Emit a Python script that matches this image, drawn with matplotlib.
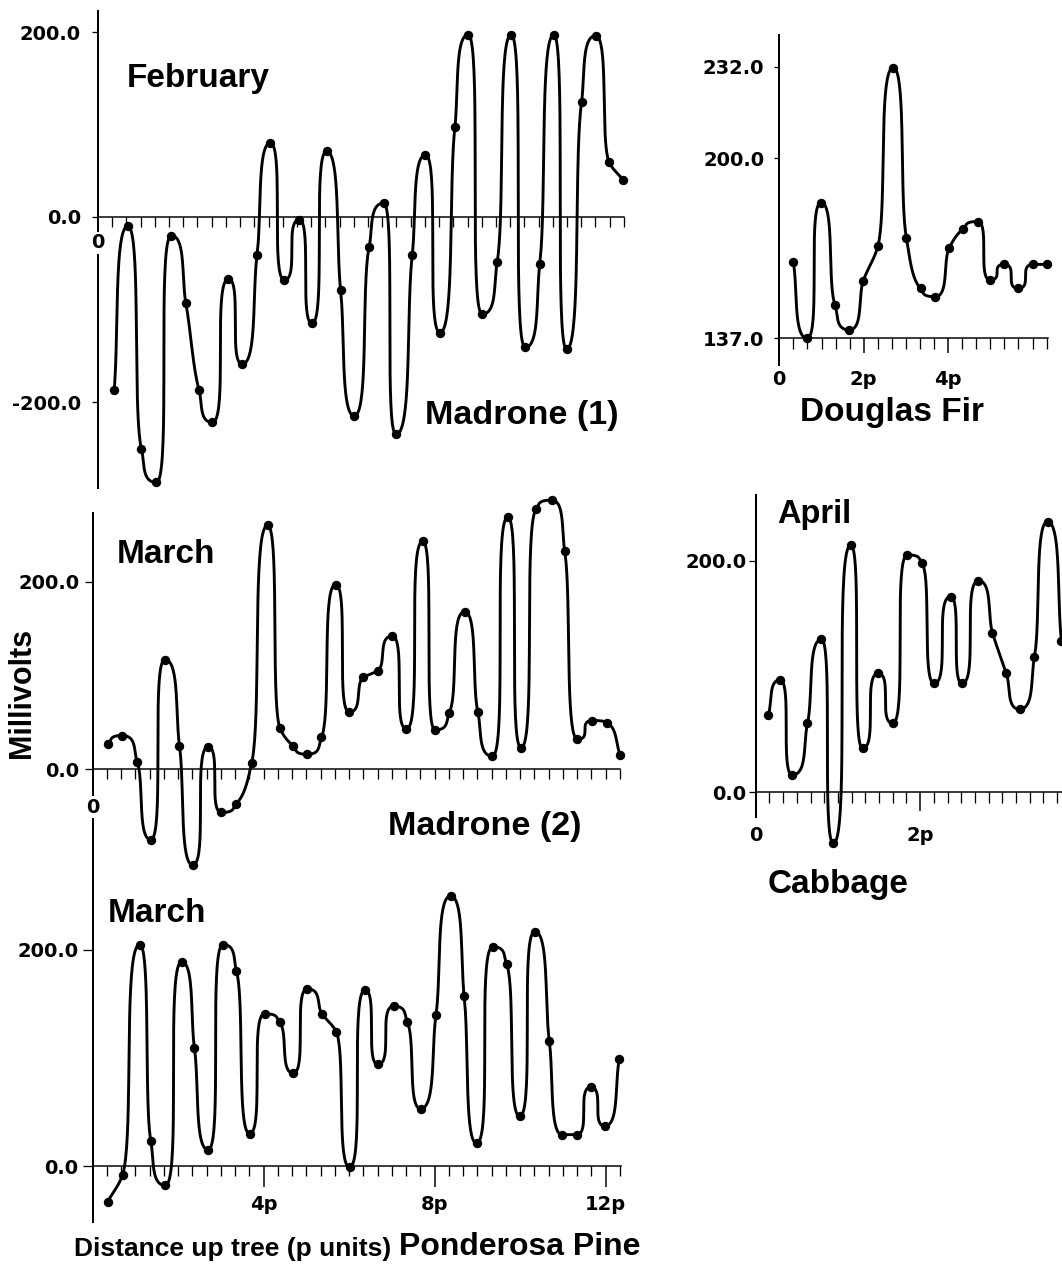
import numpy as np
import matplotlib.pyplot as plt
from matplotlib import transforms

# --- Data (millivolts vs distance up tree, p units) ---
madrone1_x = [0.38, 0.70, 1.02, 1.37, 1.72, 2.06, 2.37, 2.68, 3.06, 3.38, 3.73, 4.04, 4.37,
              4.72, 5.02, 5.36, 5.69, 6.01, 6.36, 6.70, 6.99, 7.37, 7.68, 8.02, 8.37, 8.68,
              9.01, 9.36, 9.69, 10.02, 10.36, 10.69, 10.99, 11.34, 11.67, 11.99, 12.32]
madrone1_mv = [-187, -10, -251, -287, -20, -93, -187, -222, -67, -159, -41, 80, -68,
               -3, -115, 71, -79, -215, -32, 15, -235, -41, 67, -125, 97, 197,
               -105, -49, 197, -141, -51, 197, -143, 124, 196, 59, 40]

madrone2_x = [0.35, 0.69, 1.04, 1.36, 1.69, 2.03, 2.34, 2.70, 3.01, 3.35, 3.72, 4.09, 4.38,
              4.69, 5.02, 5.35, 5.68, 6.00, 6.33, 6.67, 7.00, 7.34, 7.72, 8.01, 8.34, 8.70,
              9.01, 9.35, 9.71, 10.02, 10.38, 10.74, 11.04, 11.34, 11.69, 12.03, 12.34]
madrone2_mv = [27, 36, 8, -75, 117, 25, -102, 24, -46, -37, 7, 260, 44,
               25, 16, 34, 197, 61, 98, 105, 142, 43, 243, 42, 60, 168,
               61, 14, 269, 23, 278, 287, 233, 32, 52, 49, 15]

pine_x = [0.35, 0.70, 1.10, 1.36, 1.70, 2.08, 2.38, 2.70, 3.05, 3.36, 3.67, 4.02, 4.37,
          4.69, 5.02, 5.36, 5.70, 6.01, 6.37, 6.67, 7.04, 7.36, 7.67, 8.03, 8.37, 8.69,
          8.98, 9.36, 9.68, 9.99, 10.34, 10.68, 10.98, 11.32, 11.65, 11.98, 12.32]
pine_mv = [-33, -8, 205, 23, -18, 189, 109, 15, 205, 181, 30, 141, 133,
           86, 164, 141, 124, -1, 163, 94, 148, 133, 53, 140, 250, 157,
           21, 203, 187, 46, 217, 116, 29, 29, 73, 37, 99]

fir_x = [0.33, 0.66, 0.99, 1.32, 1.66, 1.99, 2.34, 2.70, 3.01, 3.35, 3.69, 4.03, 4.36,
         4.70, 4.99, 5.33, 5.66, 6.01, 6.35]
fir_mv = [163.9, 137.1, 184.5, 148.7, 140.0, 157.2, 169.5, 231.7, 172.3, 154.5, 151.6,
          168.8, 175.3, 177.9, 157.5, 162.9, 154.5, 162.9, 162.9]

cabbage_x = [0.154, 0.296, 0.446, 0.63, 0.80, 0.945, 1.156, 1.30, 1.49, 1.667, 1.846,
             2.02, 2.17, 2.37, 2.51, 2.71, 2.88, 3.05, 3.21, 3.39, 3.55, 3.72]
cabbage_mv = [66.8, 97, 15, 59.6, 132, -44, 213.5, 38, 102.7, 59.6, 205,
              198, 94, 169, 94, 182.7, 137.8, 102.7, 71.7, 116.5, 233.7, 130.6]

W, H = 1062, 1267
PT = 0.72  # points per pixel at 100 dpi
plt.rcParams["font.family"] = ["Liberation Sans", "DejaVu Sans"]
plt.rcParams["font.weight"] = "bold"
TICKFONT = dict(family="DejaVu Sans", weight="bold", size=14)

fig = plt.figure(figsize=(W / 100, H / 100), dpi=100)


def smooth_curve(x, y, ppx, ppy, n=40):
    # Bezier pieces in screen space: flat handles at peaks/troughs give the
    # rounded, near-vertical pulses of the original plotter curve
    X = np.asarray(x, float) * ppx
    Y = np.asarray(y, float) * ppy
    h = np.diff(X)
    D = np.diff(Y)
    m = D / h
    d = np.zeros_like(Y)
    d[0], d[-1] = m[0], m[-1]
    for k in range(1, len(X) - 1):
        if m[k - 1] * m[k] > 0:
            w1 = 2 * h[k] + h[k - 1]
            w2 = h[k] + 2 * h[k - 1]
            d[k] = (w1 + w2) / (w1 / m[k - 1] + w2 / m[k])

    def handle(s, hk, Dk):
        if Dk == 0:
            return hk / 3
        if s == 0:
            return hk
        a = hk / (1 + 2 * abs(s) / abs(Dk / hk))
        return min(a, abs(Dk / s))

    t = np.linspace(0, 1, n)
    b0, b1, b2, b3 = (1 - t) ** 3, 3 * (1 - t) ** 2 * t, 3 * (1 - t) * t ** 2, t ** 3
    xs, ys = [], []
    for k in range(len(X) - 1):
        a0 = handle(d[k], h[k], D[k])
        a1 = handle(d[k + 1], h[k], D[k])
        cx1, cy1 = X[k] + a0, Y[k] + a0 * d[k]
        cx2, cy2 = X[k + 1] - a1, Y[k + 1] - a1 * d[k + 1]
        xs.append(b0 * X[k] + b1 * cx1 + b2 * cx2 + b3 * X[k + 1])
        ys.append(b0 * Y[k] + b1 * cy1 + b2 * cy2 + b3 * Y[k + 1])
    return np.concatenate(xs) / ppx, np.concatenate(ys) / ppy


def add_panel(px0, ppx, py0, ppy, xlim, ylim):
    # px0/py0: pixel position of x=0 / y=0, ppx/ppy: pixels per data unit
    left = px0 + ppx * xlim[0]
    right = px0 + ppx * xlim[1]
    top = py0 - ppy * ylim[1]
    bottom = py0 - ppy * ylim[0]
    ax = fig.add_axes([left / W, 1 - bottom / H, (right - left) / W, (bottom - top) / H])
    ax.set_xlim(xlim)
    ax.set_ylim(ylim)
    ax.patch.set_alpha(0)
    for s in ["top", "right"]:
        ax.spines[s].set_visible(False)
    ax.spines["left"].set_linewidth(2.0 * PT)
    ax.spines["bottom"].set_linewidth(1.5 * PT)
    ax.scale_px = (ppx, ppy)
    return ax


def draw(ax, x, y):
    xs, ys = smooth_curve(x, y, *ax.scale_px)
    ax.plot(xs, ys, color="black", lw=2.9 * PT, clip_on=False, solid_joinstyle="round")
    ax.plot(x, y, "o", color="black", ms=8 * PT, clip_on=False)


def setup_axes(ax, base, yticks, ylabels, ylen, ypad, minor, minlen, major=(), majlen=0):
    # lengths and pads given in pixels
    ax.spines["bottom"].set_position(("data", base))
    ax.set_yticks(yticks)
    ax.set_yticklabels(ylabels, fontdict=TICKFONT)
    ax.tick_params(axis="y", length=ylen * PT, width=1.3 * PT, pad=ypad * PT)
    ax.set_xticks(list(major))
    ax.set_xticklabels([])
    ax.set_xticks(minor, minor=True)
    ax.tick_params(axis="x", which="minor", length=minlen * PT, width=1.3 * PT)
    ax.tick_params(axis="x", which="major", length=majlen * PT, width=1.5 * PT)


def xlabel(ax, x, base, s, dy, white=False):
    tr = transforms.offset_copy(ax.transData, fig=fig, y=-dy, units="dots")
    kw = dict(facecolor="white", edgecolor="none", pad=1) if white else None
    ax.text(x, base, s, transform=tr, ha="center", va="center", bbox=kw, zorder=5,
            clip_on=False, **TICKFONT)


def ftext(x, y, s, size=24, **kw):
    fig.text(x / W, 1 - y / H, s, fontsize=size, fontweight="bold", va="center", **kw)


thirds = [k / 3 for k in range(1, 38)]
sixths = [k / 6 for k in range(1, 25)]

# Madrone (1), February
ax1 = add_panel(98, 42.65, 217, 0.925, (0, 12.33), (-293, 223))
setup_axes(ax1, 0, [200, 0, -200], ["200.0", "0.0", "-200.0"], 6, 11, thirds, 10)
draw(ax1, madrone1_x, madrone1_mv)
xlabel(ax1, 0, 0, "0", 26, white=True)

# Madrone (2), March
ax2 = add_panel(92.7, 42.75, 769.3, 0.938, (0, 12.34), (-105, 273))
setup_axes(ax2, 0, [200, 0], ["200.0", "0.0"], 8, 5, thirds, 10)
draw(ax2, madrone2_x, madrone2_mv)
xlabel(ax2, 0, 0, "0", 38, white=True)

# Ponderosa Pine, March
ax3 = add_panel(92.7, 42.75, 1166, 1.08, (0, 12.36), (-52, 276))
setup_axes(ax3, 0, [200, 0], ["200.0", "0.0"], 10, 4, thirds, 10, major=[4, 8, 12], majlen=21)
draw(ax3, pine_x, pine_mv)
for v, s in zip([4, 8, 12], ["4p", "8p", "12p"]):
    xlabel(ax3, v, 0, s, 39)

# Douglas Fir
ax4 = add_panel(779.3, 42.2, 158.3 + 2.86 * 200, 2.86, (0, 6.36), (127.7, 243))
setup_axes(ax4, 137, [232, 200, 137], ["232.0", "200.0", "137.0"], 5, 10,
           [k / 3 for k in range(1, 20)], 11, major=[2, 4], majlen=15)
draw(ax4, fir_x, fir_mv)
for v, s in zip([0, 2, 4], ["0", "2p", "4p"]):
    xlabel(ax4, v, 137, s, 41)

# Cabbage, April
ax5 = add_panel(755.7, 82.2, 792.3, 1.158, (0, 4.0), (-21, 257))
setup_axes(ax5, 0, [200, 0], ["200.0", "0.0"], 7, 2, sixths, 11, major=[2], majlen=19)
draw(ax5, cabbage_x, cabbage_mv)
for v, s in zip([0, 2], ["0", "2p"]):
    xlabel(ax5, v, 0, s, 43)

# --- Labels ---
ftext(127, 78, "February")
ftext(425, 416, "Madrone (1)", size=24.6)
ftext(117, 555, "March")
ftext(388, 826, "Madrone (2)", size=24.6)
ftext(108, 913, "March")
ftext(800, 413, "Douglas Fir")
ftext(777, 515, "April", size=23.5)
ftext(768, 885, "Cabbage")
ftext(74, 1249, "Distance up tree (p units)", size=19)
ftext(399, 1247, "Ponderosa Pine", size=23)
ftext(22, 693, "Millivolts", size=22, rotation=90, ha="center")

plt.savefig("out.png", dpi=100)
